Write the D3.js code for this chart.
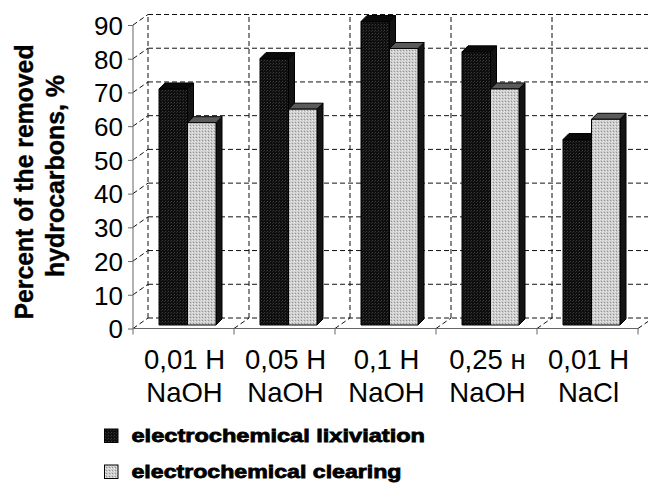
<!DOCTYPE html>
<html><head><meta charset="utf-8">
<script src="https://cdn.jsdelivr.net/npm/d3@7/dist/d3.min.js"></script>
<style>
html,body{margin:0;padding:0;background:#fff;}
svg{display:block;font-family:"Liberation Sans",Arial,sans-serif;}
</style></head>
<body>
<svg id="chart" width="648" height="486"></svg>
<script>
// ---- data ----
const categories = ["0,01 H\nNaOH", "0,05 H\nNaOH", "0,1 H\nNaOH", "0,25 н\nNaOH", "0,01 H\nNaCl"];
const seriesNames = ["electrochemical lixiviation", "electrochemical clearing"];
const lixiviation = [70, 79, 90, 81, 55];
const clearing = [60, 64, 82, 70, 61];
const yTicks = [0, 10, 20, 30, 40, 50, 60, 70, 80, 90];
const yTitle = ["Percent of the removed", "hydrocarbons, %"];

// ---- layout ----
const svg = d3.select("#chart");
const W = 648, H = 486;
const left = 133, right = 638, y0 = 328.5, yTop = 25;
const wallDX = 15, wallDY = -10.5;    // depth of back wall
const barDY = -3.5;                   // bars sit slightly behind the front plane
const bdx = 6, bdy = -6;              // bar depth

const x0 = d3.scaleBand().domain(categories).range([left, right]).padding(0);
const x1 = d3.scaleBand().domain(seriesNames).range([26, 83]).padding(0);
const y = d3.scaleLinear().domain([0, 90]).range([y0, yTop]);

// patterns
const defs = svg.append("defs");
const pDark = defs.append("pattern").attr("id", "pDark").attr("width", 3).attr("height", 3).attr("patternUnits", "userSpaceOnUse");
pDark.append("rect").attr("width", 3).attr("height", 3).attr("fill", "#0e0e0e");
pDark.append("rect").attr("x", 0).attr("y", 0).attr("width", 1).attr("height", 1).attr("fill", "#3c3c3c");
pDark.append("rect").attr("x", 2).attr("y", 1).attr("width", 1).attr("height", 1).attr("fill", "#2a2a2a");
const pLight = defs.append("pattern").attr("id", "pLight").attr("width", 3).attr("height", 3).attr("patternUnits", "userSpaceOnUse");
pLight.append("rect").attr("width", 3).attr("height", 3).attr("fill", "#cbcbcb");
pLight.append("rect").attr("x", 0).attr("y", 0).attr("width", 1).attr("height", 1).attr("fill", "#f0f0f0");
pLight.append("rect").attr("x", 1).attr("y", 2).attr("width", 1).attr("height", 1).attr("fill", "#959595");
pLight.append("rect").attr("x", 2).attr("y", 1).attr("width", 1).attr("height", 1).attr("fill", "#e0e0e0");

// ---- grid (back wall, left wall, floor) ----
const grid = svg.append("g").attr("stroke", "#111").attr("stroke-width", 1).attr("stroke-dasharray", "5,3").attr("fill", "none");
grid.selectAll("line.h").data(yTicks).join("line")
  .attr("x1", left + wallDX).attr("x2", W + 10)
  .attr("y1", d => y(d) + wallDY).attr("y2", d => y(d) + wallDY);
grid.selectAll("line.d").data(yTicks.filter(d => d > 0)).join("line")
  .attr("x1", left).attr("y1", d => y(d)).attr("x2", left + wallDX).attr("y2", d => y(d) + wallDY);
const bounds = categories.map(c => x0(c)).concat([x0(categories[categories.length - 1]) + x0.bandwidth()]);
grid.selectAll("line.v").data(bounds).join("line")
  .attr("x1", d => d + wallDX).attr("x2", d => d + wallDX)
  .attr("y1", y(0) + wallDY).attr("y2", y(90) + wallDY);
grid.selectAll("line.f").data(bounds).join("line")
  .attr("x1", d => d).attr("y1", y(0)).attr("x2", d => d + wallDX).attr("y2", y(0) + wallDY);

// ---- bars ----
const rows = categories.map((c, i) => ({ c, vals: [lixiviation[i], clearing[i]] }));
const barG = svg.append("g");
rows.forEach(r => {
  r.vals.forEach((v, j) => {
    const s = seriesNames[j];
    const x = x0(r.c) + x1(s), w = x1.bandwidth();
    const yt = y(v) + barDY, yb = y(0) + barDY;
    const g = barG.append("g").attr("stroke", "#000").attr("stroke-width", 1).attr("stroke-linejoin", "round");
    g.append("polygon").attr("points", [[x + w, yt], [x + w + bdx, yt + bdy], [x + w + bdx, yb + bdy], [x + w, yb]].map(p => p.join(",")).join(" "))
      .attr("fill", "#141414");
    g.append("polygon").attr("points", [[x, yt], [x + bdx, yt + bdy], [x + w + bdx, yt + bdy], [x + w, yt]].map(p => p.join(",")).join(" "))
      .attr("fill", j === 0 ? "#0a0a0a" : "#5a5a5a");
    g.append("rect").attr("x", x).attr("y", yt).attr("width", w).attr("height", yb - yt)
      .attr("fill", j === 0 ? "url(#pDark)" : "url(#pLight)");
  });
});

// ---- axes ----
const axisColor = "#666";
const yAxis = svg.append("g").attr("transform", `translate(${left},0)`)
  .call(d3.axisLeft(y).tickValues(yTicks).tickSize(5).tickPadding(5));
yAxis.select(".domain").attr("stroke", axisColor).attr("d", `M0,${y0}V${yTop}`);
yAxis.selectAll(".tick line").attr("stroke", axisColor);
yAxis.selectAll(".tick text").attr("font-size", 26).attr("fill", "#000")
  .attr("font-family", "Liberation Sans, Arial, sans-serif").attr("dy", "0.36em");

const xAxis = svg.append("g");
xAxis.append("line").attr("x1", left).attr("x2", right).attr("y1", y0).attr("y2", y0).attr("stroke", axisColor);
xAxis.selectAll("line.t").data(bounds).join("line")
  .attr("x1", d => d).attr("x2", d => d).attr("y1", y0).attr("y2", y0 + 6).attr("stroke", axisColor);
const xl = xAxis.selectAll("text").data(categories).join("text")
  .attr("x", d => x0(d) + x0.bandwidth() / 2 + 1)
  .attr("text-anchor", "middle").attr("font-size", 27.5).attr("fill", "#000");
xl.append("tspan").attr("x", d => x0(d) + x0.bandwidth() / 2 + 1).attr("y", 368.5).text(d => d.split("\n")[0]);
xl.append("tspan").attr("x", d => x0(d) + x0.bandwidth() / 2 + 1).attr("y", 402).text(d => d.split("\n")[1]);

// ---- y title ----
svg.append("text").attr("transform", "translate(33,182) rotate(-90)").attr("text-anchor", "middle")
  .attr("font-size", 25).attr("font-weight", "bold").attr("stroke", "#000").attr("stroke-width", 0.4)
  .attr("textLength", 275).attr("lengthAdjust", "spacingAndGlyphs").text(yTitle[0]);
svg.append("text").attr("transform", "translate(63.5,176) rotate(-90)").attr("text-anchor", "middle")
  .attr("font-size", 25).attr("font-weight", "bold").attr("stroke", "#000").attr("stroke-width", 0.4)
  .attr("textLength", 202).attr("lengthAdjust", "spacingAndGlyphs").text(yTitle[1]);

// ---- legend ----
const legY = [429, 465];
const legW = [293.5, 270];
const leg = svg.append("g");
seriesNames.forEach((s, i) => {
  leg.append("rect").attr("x", 104.5).attr("y", legY[i]).attr("width", 13.5).attr("height", 13.5)
    .attr("fill", i === 0 ? "url(#pDark)" : "url(#pLight)").attr("stroke", "#000").attr("stroke-width", 1);
  leg.append("text").attr("x", 131.5).attr("y", legY[i] + 12.5)
    .attr("font-size", 19).attr("font-weight", "bold").attr("fill", "#000")
    .attr("stroke", "#000").attr("stroke-width", 0.8)
    .attr("textLength", legW[i]).attr("lengthAdjust", "spacingAndGlyphs")
    .text(s);
});
</script>
</body></html>
